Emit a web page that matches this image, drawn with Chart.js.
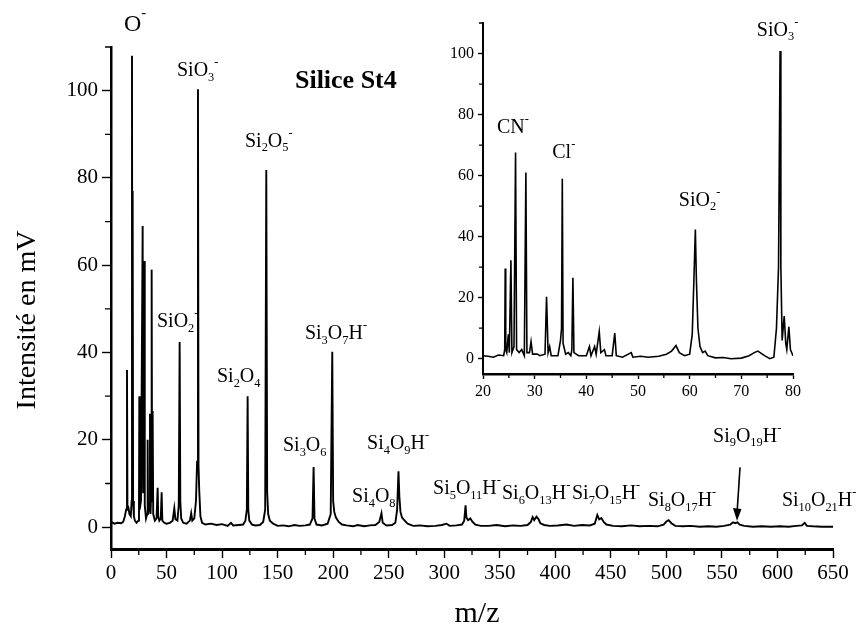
<!DOCTYPE html>
<html>
<head>
<meta charset="utf-8">
<script src="https://cdn.jsdelivr.net/npm/chart.js@4"></script>
<style>
body { margin: 0; background: #fff; }
#wrap { position: relative; width: 863px; height: 627px; }
#inset { position: absolute; left: 420px; top: 0; }
</style>
</head>
<body>
<div id="wrap">
<canvas id="main" width="863" height="627"></canvas>
<canvas id="inset" width="420" height="410"></canvas>
</div>
<script>
const FONT = "'Liberation Serif', 'Times New Roman', serif";
Chart.defaults.font.family = FONT;
Chart.defaults.color = '#000';

// main spectrum (m/z, mV)
const mzMain = [0, 3, 6, 9, 11, 12.5, 13.6, 14.4, 14.8, 15.6, 16.6, 17.8, 18.6, 18.9, 19.2, 19.5, 19.9, 20.6, 21.5, 23,
  24.6, 25.2, 25.5, 25.8, 27, 28.5, 28.9, 29.6, 30, 30.4, 31.5, 32.6, 33, 33.4, 34.6, 35.1, 35.6, 36.2, 36.6, 37,
  37.5, 38, 39.5, 41, 42, 42.5, 43.5, 44.8, 45.6, 46.2, 48, 50, 53, 55.5, 57, 58, 59.8, 61, 61.8, 62.4,
  63.2, 65, 68, 71, 72.2, 73.2, 75, 76.5, 77.5, 78.3, 78.8, 79.5, 80.5, 82, 85, 90, 95, 100, 105, 108,
  110, 115, 119, 121, 122.3, 123, 123.6, 124.5, 127, 130, 134, 137, 138.8, 139.8, 140.6, 141.5, 143, 146, 150, 155,
  160, 165, 170, 175, 179, 181.4, 182.4, 183.2, 185, 190, 195, 197.8, 199.2, 200, 201, 202.5, 205, 208, 212, 218,
  222, 228, 233, 238, 241.5, 243.5, 244.6, 248, 253, 256, 257.6, 258.8, 259.6, 260.6, 262, 264, 267, 272, 278, 285,
  292, 298, 302, 305, 311, 316, 318, 319.2, 320, 321.5, 323.5, 325.5, 328, 333, 340, 347, 355, 362, 369, 375,
  378, 379.6, 381, 383, 385, 386.5, 390, 395, 402, 410, 417, 424, 431, 435.5, 437.8, 439.5, 441.5, 443.5, 446, 452,
  460, 468, 476, 484, 492, 497.5, 500, 502, 504.5, 508, 515, 522, 530, 538, 545, 552, 557.5, 560, 562, 564,
  566, 570, 578, 586, 594, 602, 610, 617, 622, 624.5, 626.5, 632, 640, 650];
const intMain = [1.2, 0.8, 1.0, 0.9, 1.2, 2.5, 4, 36, 5, 4.6, 3, 2.5, 6, 108, 20, 77, 6, 2.5, 1.5, 1,
  1.5, 5, 30, 4, 6, 69, 8, 10, 61, 5, 2, 3, 20, 3, 5, 26, 3, 8, 59, 6,
  26.6, 3, 1.5, 2, 9, 2.5, 1.5, 2, 8, 1.5, 1, 0.8, 1, 1.5, 4.3, 1.8, 1.5, 5, 42.4, 6,
  2, 1, 0.8, 1.5, 3.2, 1.5, 2, 6, 15, 100.3, 14, 8, 2.5, 1, 0.6, 0.8, 0.5, 0.7, 0.3, 1,
  0.4, 0.5, 0.6, 1.5, 4, 30, 4, 1.5, 0.6, 0.4, 0.5, 1.2, 4, 81.8, 8, 3, 1.5, 0.8, 0.3, 0.4,
  0.2, 0.5, 0.3, 0.4, 0.6, 2, 13.8, 2, 0.6, 0.4, 0.8, 3, 40.2, 6, 3.5, 2.2, 1.2, 0.6, 0.4, 0.2,
  0.5, 0.2, 0.4, 0.5, 1.2, 3.2, 1, 0.4, 0.5, 1, 4, 12.8, 7, 3.5, 2.2, 1.6, 0.8, 0.3, 0.4, 0.2,
  0.3, 0.5, 0.8, 0.3, 0.4, 0.6, 1.5, 5, 2.2, 1.6, 2, 1.2, 0.6, 0.3, 0.3, 0.5, 0.2, 0.4, 0.3, 0.5,
  1.2, 2.3, 1.6, 2.4, 1.8, 0.9, 0.5, 0.3, 0.4, 0.6, 0.3, 0.5, 0.4, 0.8, 2.8, 1.8, 2.1, 1.2, 0.6, 0.3,
  0.2, 0.4, 0.2, 0.3, 0.2, 0.6, 1.3, 1.6, 0.9, 0.3, 0.2, 0.3, 0.1, 0.2, 0.1, 0.3, 0.6, 1.1, 0.9, 1.1,
  0.6, 0.3, 0.1, 0.2, 0.1, 0.2, 0.1, 0.3, 0.4, 1, 0.3, 0.2, 0.1, 0.1];

// inset: zoom on 20-80
const mzInset = [20, 21, 22, 23, 24, 24.2, 24.3, 24.4, 24.6, 24.9, 25.1, 25.4, 25.6, 26, 26.3, 26.5, 27, 27.5, 28, 28.3,
  28.5, 29, 29.3, 29.6, 30.5, 31, 32, 32.3, 32.6, 32.9, 33.2, 34.5, 35, 35.2, 35.35, 35.5, 36, 36.5, 37, 37.2,
  37.4, 37.6, 38.5, 40, 40.6, 40.9, 41.6, 41.9, 42.5, 42.8, 43.5, 43.8, 45, 45.5, 45.8, 47, 48.7, 49, 50.5, 52,
  54, 55.5, 56.5, 57.35, 58, 59, 60, 60.5, 60.8, 61.1, 61.3, 61.6, 62, 62.5, 63, 63.5, 65, 66.5, 68, 70,
  71.5, 72.5, 73.2, 74.5, 75.5, 76.3, 76.8, 77.2, 77.5, 77.65, 77.9, 78.3, 78.6, 78.8, 79.2, 79.5, 80];
const intInset = [1, 0.8, 0.5, 1.2, 1, 3, 29.6, 3, 2, 8, 2, 32.3, 2, 4, 67.6, 3, 2, 3, 1, 61,
  2, 2, 5.6, 1.5, 1.5, 1, 1.5, 20.3, 2, 4, 1, 1, 6, 10, 59, 5, 1.5, 2, 1, 3,
  26.5, 2, 1, 1, 4, 1, 4, 1.5, 8.9, 2, 3, 1, 1, 8.4, 1, 0.5, 2, 0.5, 0.8, 0.5,
  0.8, 1.5, 2.5, 4.3, 2, 1, 1.5, 8, 24.7, 42.3, 26, 10, 4, 2, 2.5, 1, 0.3, 0.4, 0, 0.2,
  1, 2, 2.5, 1, 0, 0.5, 10, 30, 100.8, 30, 6, 14, 5, 3, 10.5, 3, 1];

// tick labels
const mainXTicks = [0, 50, 100, 150, 200, 250, 300, 350, 400, 450, 500, 550, 600, 650];
const mainYTicks = [0, 20, 40, 60, 80, 100];
const insetXTicks = [20, 30, 40, 50, 60, 70, 80];
const insetYTicks = [0, 20, 40, 60, 80, 100];

// peak names and where they sit (m/z, mV)
const mainPeakNames = ['O^{-}', 'SiO_{3}^{-}', 'Si_{2}O_{5}^{-}', 'SiO_{2}^{-}', 'Si_{2}O_{4}', 'Si_{3}O_{7}H^{-}',
  'Si_{3}O_{6}', 'Si_{4}O_{9}H^{-}', 'Si_{4}O_{8}', 'Si_{5}O_{11}H^{-}', 'Si_{6}O_{13}H^{-}', 'Si_{7}O_{15}H^{-}',
  'Si_{8}O_{17}H^{-}', 'Si_{9}O_{19}H^{-}', 'Si_{10}O_{21}H^{-}'];
const mainPeakSpots = [[11.7, 115.2], [59.4, 104.5], [120.6, 88.4], [41.4, 47], [95.4, 34.4], [174.6, 44.2],
  [154.8, 18.6], [230.5, 19], [217, 6.9], [289.9, 8.7], [352, 7.6], [415, 7.6],
  [483.4, 6], [542, 20.8], [604, 6]];
const insetPeakNames = ['CN^{-}', 'Cl^{-}', 'SiO_{2}^{-}', 'SiO_{3}^{-}'];
const insetPeakSpots = [[22.7, 75.7], [33.4, 67.5], [57.9, 51.9], [73, 107.6]];

function drawFormula(ctx, str, x, y, size, weight) {
  let i = 0;
  while (i < str.length) {
    let mode = 0;
    if (str[i] === '_' || str[i] === '^') { mode = str[i] === '_' ? 1 : -1; i++; }
    let txt;
    if (str[i] === '{') { const j = str.indexOf('}', i); txt = str.slice(i + 1, j); i = j + 1; }
    else { txt = str[i]; i++; }
    const s = mode ? size * 0.62 : size;
    ctx.font = (weight || 'normal') + ' ' + s + 'px ' + FONT;
    const dy = mode === 1 ? size * 0.32 : (mode === -1 ? -size * 0.45 : 0);
    ctx.fillText(txt, x, y + dy);
    x += ctx.measureText(txt).width;
  }
}

function decor(o) {
  return {
    id: 'decor',
    afterDraw(chart) {
      const ctx = chart.ctx, xs = chart.scales.x, ys = chart.scales.y, a = chart.chartArea;
      ctx.save();
      ctx.strokeStyle = '#000';
      ctx.fillStyle = '#000';
      ctx.lineWidth = 1.3;
      // minor ticks halfway between labelled ones
      ctx.beginPath();
      for (let k = 0; k < o.xt.length - 1; k++) {
        const px = xs.getPixelForValue((o.xt[k] + o.xt[k + 1]) / 2);
        ctx.moveTo(px, a.bottom); ctx.lineTo(px, a.bottom + o.minor);
      }
      for (let k = 0; k < o.yt.length - 1; k++) {
        const py = ys.getPixelForValue((o.yt[k] + o.yt[k + 1]) / 2);
        ctx.moveTo(a.left, py); ctx.lineTo(a.left - o.minor, py);
      }
      ctx.stroke();
      ctx.textAlign = 'left';
      ctx.textBaseline = 'middle';
      o.names.forEach((n, k) => {
        const sz = (o.big && k === 0) ? 24 : o.size;
        drawFormula(ctx, n, xs.getPixelForValue(o.spots[k][0]), ys.getPixelForValue(o.spots[k][1]), sz);
      });
      if (o.extra) o.extra(ctx, xs, ys);
      ctx.restore();
    }
  };
}

function spectrum(mz, val, w) {
  return [{ data: mz.map((m, i) => ({ x: m, y: val[i] })), borderColor: '#000', borderWidth: w,
    pointRadius: 0, tension: 0, fill: false }];
}

function axes(xr, yr, xt, yt, fontSize, tickLen, axisW, yWidth, xHeight) {
  return {
    x: {
      type: 'linear', min: xr[0], max: xr[1],
      afterBuildTicks: s => { s.ticks = xt.map(v => ({ value: v })); },
      afterFit: s => { s.height = xHeight; },
      ticks: { autoSkip: false, maxRotation: 0, padding: 3, font: { size: fontSize }, color: '#000' },
      grid: { drawOnChartArea: false, color: '#000', tickLength: tickLen, tickWidth: 1.4 },
      border: { display: true, color: '#000', width: axisW + 0.5 }
    },
    y: {
      min: yr[0], max: yr[1],
      afterBuildTicks: s => { s.ticks = yt.map(v => ({ value: v })); },
      afterFit: s => { s.width = yWidth; },
      ticks: { padding: 4, font: { size: fontSize }, color: '#000' },
      grid: { drawOnChartArea: false, color: '#000', tickLength: tickLen, tickWidth: 1.4 },
      border: { display: true, color: '#000', width: axisW }
    }
  };
}

new Chart(document.getElementById('main'), {
  type: 'line',
  data: { datasets: spectrum(mzMain, intMain, 1.9) },
  options: {
    responsive: false, animation: false, events: [],
    layout: { padding: { left: 0, right: 30, top: 47, bottom: 0 } },
    plugins: { legend: { display: false }, tooltip: { enabled: false } },
    scales: axes([0, 650], [-5, 110], mainXTicks, mainYTicks, 21, 9, 2.5, 111, 78)
  },
  plugins: [decor({
    xt: mainXTicks, yt: [0, 20, 40, 60, 80, 100, 120], minor: 6, names: mainPeakNames, spots: mainPeakSpots,
    size: 20, big: true,
    extra(ctx, xs, ys) {
      ctx.font = 'bold 26px ' + FONT;
      ctx.fillText('Silice St4', xs.getPixelForValue(165.6), ys.getPixelForValue(102.2));
      // arrow to the Si9O19H- bump
      const x1 = xs.getPixelForValue(566.3), y1 = ys.getPixelForValue(13.7);
      const x2 = xs.getPixelForValue(563.6), y2 = ys.getPixelForValue(1.4);
      ctx.lineWidth = 1.6;
      ctx.beginPath(); ctx.moveTo(x1, y1); ctx.lineTo(x2, y2 - 8); ctx.stroke();
      ctx.beginPath(); ctx.moveTo(x2, y2); ctx.lineTo(x2 - 4, y2 - 13); ctx.lineTo(x2 + 4.5, y2 - 12); ctx.closePath(); ctx.fill();
      ctx.textAlign = 'center';
      ctx.font = '30px ' + FONT;
      ctx.fillText('m/z', 477, 614);
      ctx.save();
      ctx.translate(28, 320);
      ctx.rotate(-Math.PI / 2);
      ctx.font = '28px ' + FONT;
      ctx.fillText('Intensité en mV', 0, 0);
      ctx.restore();
    }
  })]
});

new Chart(document.getElementById('inset'), {
  type: 'line',
  data: { datasets: spectrum(mzInset, intInset, 1.6) },
  options: {
    responsive: false, animation: false, events: [],
    layout: { padding: { left: 0, right: 47, top: 23, bottom: 0 } },
    plugins: { legend: { display: false }, tooltip: { enabled: false } },
    scales: axes([20, 80], [-5, 110], insetXTicks, insetYTicks, 16, 5, 2, 63, 36)
  },
  plugins: [decor({
    xt: insetXTicks, yt: [0, 20, 40, 60, 80, 100, 120], minor: 4, names: insetPeakNames, spots: insetPeakSpots,
    size: 20, big: false
  })]
});
</script>
</body>
</html>
